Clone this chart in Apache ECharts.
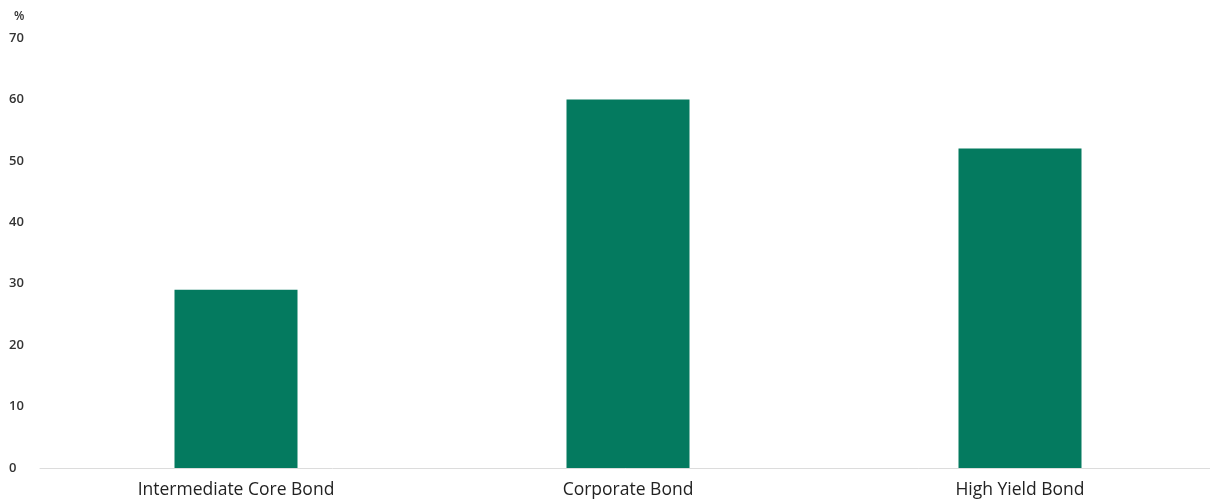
<!DOCTYPE html>
<html>
<head>
<meta charset="utf-8">
<script src="https://cdn.jsdelivr.net/npm/echarts@6/dist/echarts.min.js"></script>
<style>
  html, body { margin: 0; padding: 0; background: #fff; }
  #main { width: 1210px; height: 500px; }
</style>
</head>
<body>
<div id="main"></div>
<script>
var categories = ['Intermediate Core Bond', 'Corporate Bond', 'High Yield Bond'];
var values = [29, 60, 52];
var yTicks = [0, 10, 20, 30, 40, 50, 60, 70];

var myChart = echarts.init(document.getElementById('main'));
var Options = {
  animation: false,
  textStyle: { fontFamily: 'Open Sans, Noto Sans, sans-serif' },
  title: {
    text: '%',
    left: 9,
    top: 6,
    textStyle: { fontSize: 12, fontWeight: 600, color: '#333' }
  },
  grid: { left: 40, top: 38, bottom: 32, width: 1176, outerBoundsMode: 'none' },
  xAxis: {
    type: 'category',
    data: categories,
    axisTick: { show: false },
    axisLine: { lineStyle: { color: '#dcdcdc' } },
    axisLabel: { color: '#222', fontSize: 17.5, margin: 13 }
  },
  yAxis: {
    type: 'value',
    min: yTicks[0],
    max: yTicks[yTicks.length - 1],
    interval: 10,
    splitLine: { show: false },
    axisLine: { show: false },
    axisTick: { show: false },
    axisLabel: { color: '#333', fontSize: 13, fontWeight: 600, align: 'left', margin: 31 }
  },
  series: [{
    type: 'bar',
    data: values,
    barWidth: 123,
    itemStyle: { color: '#047a5f' }
  }]
};
myChart.setOption(Options);
</script>
</body>
</html>
